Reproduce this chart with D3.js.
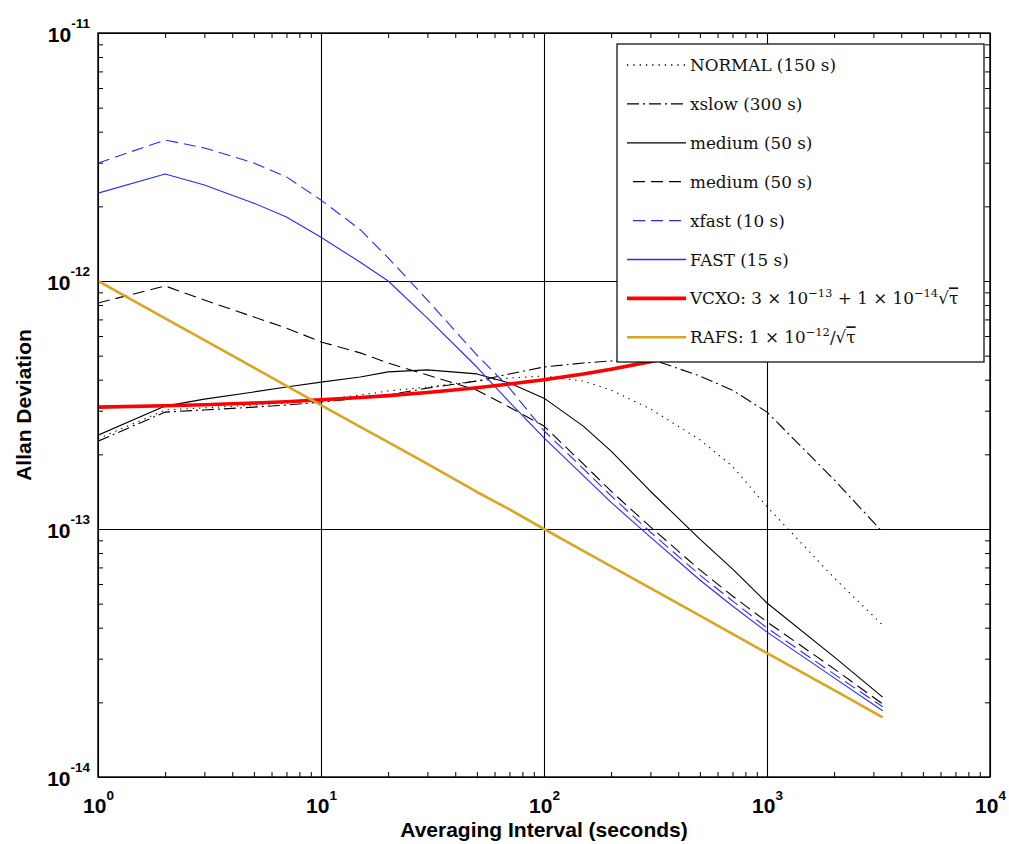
<!DOCTYPE html>
<html>
<head>
<meta charset="utf-8">
<script src="https://cdn.jsdelivr.net/npm/d3@7"></script>
<style>
  body { margin: 0; background: #fff; }
  svg { display: block; }
</style>
</head>
<body>
<svg id="chart" width="1009" height="844"></svg>
<script>
// Averaging intervals (seconds) shared by every series
const tau = [1, 2, 3, 5, 7, 10, 15, 20, 30, 50, 70, 100, 150, 200, 300, 500, 700, 1000, 2000, 3300];

// Allan deviation for each loop setting
const normal150 = [2.31e-13, 3.02e-13, 3.08e-13, 3.16e-13, 3.22e-13, 3.31e-13, 3.47e-13, 3.60e-13, 3.74e-13, 3.95e-13,
                   4.06e-13, 4.14e-13, 3.95e-13, 3.63e-13, 3.05e-13, 2.29e-13, 1.79e-13, 1.23e-13, 6.35e-14, 4.10e-14];
const xslow300 = [2.26e-13, 2.96e-13, 3.02e-13, 3.10e-13, 3.16e-13, 3.25e-13, 3.37e-13, 3.47e-13, 3.70e-13, 3.95e-13,
                  4.22e-13, 4.50e-13, 4.67e-13, 4.76e-13, 4.85e-13, 4.14e-13, 3.63e-13, 2.96e-13, 1.58e-13, 9.72e-14];
const medium50a = [2.39e-13, 3.13e-13, 3.34e-13, 3.57e-13, 3.74e-13, 3.91e-13, 4.10e-13, 4.30e-13, 4.38e-13, 4.22e-13,
                   3.88e-13, 3.37e-13, 2.60e-13, 2.06e-13, 1.42e-13, 9.10e-14, 6.90e-14, 5.03e-14, 3.05e-14, 2.10e-14];
const medium50b = [8.15e-13, 9.55e-13, 8.38e-13, 7.16e-13, 6.46e-13, 5.68e-13, 5.13e-13, 4.67e-13, 4.18e-13, 3.63e-13,
                   3.10e-13, 2.60e-13, 1.83e-13, 1.42e-13, 1.02e-13, 6.84e-14, 5.37e-14, 4.22e-14, 2.73e-14, 1.97e-14];
const xfast10 = [2.99e-12, 3.70e-12, 3.44e-12, 2.99e-12, 2.63e-12, 2.12e-12, 1.61e-12, 1.24e-12, 8.38e-13, 5.03e-13,
                 3.70e-13, 2.49e-13, 1.75e-13, 1.36e-13, 9.72e-14, 6.52e-14, 5.13e-14, 3.99e-14, 2.60e-14, 1.92e-14];
const fast15 = [2.26e-12, 2.70e-12, 2.44e-12, 2.06e-12, 1.81e-12, 1.50e-12, 1.19e-12, 1.00e-12, 7.09e-13, 4.50e-13,
                3.25e-13, 2.33e-13, 1.64e-13, 1.28e-13, 9.28e-14, 6.23e-14, 4.89e-14, 3.84e-14, 2.51e-14, 1.85e-14];
// Reference oscillator models: VCXO 3e-13 + 1e-14*sqrt(tau), RAFS 1e-12/sqrt(tau)
const vcxo = [3.10e-13, 3.14e-13, 3.17e-13, 3.22e-13, 3.26e-13, 3.32e-13, 3.39e-13, 3.45e-13, 3.55e-13, 3.71e-13,
              3.84e-13, 4.00e-13, 4.22e-13, 4.41e-13, 4.73e-13, 5.24e-13, 5.65e-13, 6.16e-13, 7.47e-13, 8.74e-13];
const rafs = [1.00e-12, 7.07e-13, 5.77e-13, 4.47e-13, 3.78e-13, 3.16e-13, 2.58e-13, 2.24e-13, 1.83e-13, 1.41e-13,
              1.20e-13, 1.00e-13, 8.16e-14, 7.07e-14, 5.77e-14, 4.47e-14, 3.78e-14, 3.16e-14, 2.24e-14, 1.74e-14];

// Axis decades
const xDecades = [1, 10, 100, 1000, 10000];
const yDecades = [1e-14, 1e-13, 1e-12, 1e-11];

const seriesList = [
  { key: "normal", values: normal150 },
  { key: "xslow",  values: xslow300 },
  { key: "medA",   values: medium50a },
  { key: "medB",   values: medium50b },
  { key: "xfast",  values: xfast10 },
  { key: "fast",   values: fast15 },
  { key: "vcxo",   values: vcxo },
  { key: "rafs",   values: rafs }
];

// Line styles per series
const styles = {
  normal: { stroke: "#000", width: 1.1, dash: "1.3,5" },
  xslow:  { stroke: "#000", width: 1.1, dash: "12,4,2,4" },
  medA:   { stroke: "#000", width: 1.1, dash: null },
  medB:   { stroke: "#000", width: 1.1, dash: "12,6" },
  xfast:  { stroke: "#2a2aff", width: 1.1, dash: "12,6" },
  fast:   { stroke: "#2a2aff", width: 1.1, dash: null },
  vcxo:   { stroke: "#ff0000", width: 3.6, dash: null },
  rafs:   { stroke: "#daa520", width: 2.6, dash: null }
};

const W = 1009, H = 844;
const m = { left: 98, top: 33, right: 19, bottom: 67 };

const svg = d3.select("#chart");

const x = d3.scaleLog().domain([1, 1e4]).range([m.left, W - m.right]);
const y = d3.scaleLog().domain([1e-14, 1e-11]).range([H - m.bottom, m.top]);
const plotW = x.range()[1] - x.range()[0];
const plotH = y.range()[0] - y.range()[1];

const minorX = d3.range(0, 4).flatMap(k => d3.range(2, 10).map(j => j * Math.pow(10, k)));
const minorY = d3.range(-14, -11).flatMap(k => d3.range(2, 10).map(j => j * Math.pow(10, k)));

svg.append("rect").attr("x", m.left).attr("y", m.top)
  .attr("width", plotW).attr("height", plotH).attr("fill", "#fff");

// Decade grid
svg.append("g").attr("class", "grid")
  .attr("transform", `translate(0,${y.range()[0]})`)
  .call(d3.axisBottom(x).tickValues(xDecades).tickSize(-plotH).tickFormat(""))
  .call(g => g.select(".domain").remove());
svg.append("g").attr("class", "grid")
  .attr("transform", `translate(${x.range()[0]},0)`)
  .call(d3.axisLeft(y).tickValues(yDecades).tickSize(-plotW).tickFormat(""))
  .call(g => g.select(".domain").remove());
svg.selectAll(".grid line").attr("stroke", "#000").attr("stroke-width", 1.1);

// Minor ticks pointing inward on all four sides
const minorAxes = [
  [d3.axisBottom(x).tickValues(minorX), `translate(0,${y.range()[0]})`],
  [d3.axisTop(x).tickValues(minorX), `translate(0,${y.range()[1]})`],
  [d3.axisLeft(y).tickValues(minorY), `translate(${x.range()[0]},0)`],
  [d3.axisRight(y).tickValues(minorY), `translate(${x.range()[1]},0)`]
];
minorAxes.forEach(([ax, tr]) => {
  svg.append("g").attr("class", "minor").attr("transform", tr)
    .call(ax.tickSize(-5).tickFormat(""))
    .call(g => g.select(".domain").remove());
});
svg.selectAll(".minor line").attr("stroke", "#000").attr("stroke-width", 1);

// Curves
svg.append("clipPath").attr("id", "plotClip")
  .append("rect").attr("x", m.left).attr("y", m.top).attr("width", plotW).attr("height", plotH);

const line = d3.line().x(d => x(d[0])).y(d => y(d[1]));
const curves = svg.append("g").attr("clip-path", "url(#plotClip)");
seriesList.forEach(s => {
  const st = styles[s.key];
  curves.append("path")
    .datum(tau.map((t, i) => [t, s.values[i]]))
    .attr("d", line)
    .attr("fill", "none")
    .attr("stroke", st.stroke)
    .attr("stroke-width", st.width)
    .attr("stroke-dasharray", st.dash)
    .attr("stroke-linejoin", "round");
});

// Plot frame
svg.append("rect").attr("x", m.left).attr("y", m.top)
  .attr("width", plotW).attr("height", plotH)
  .attr("fill", "none").attr("stroke", "#000").attr("stroke-width", 1.4);

// Tick labels: 10 with superscript exponent
const tickFont = "Liberation Sans, Arial, sans-serif";
svg.append("g")
  .attr("transform", `translate(0,${y.range()[0]})`)
  .call(d3.axisBottom(x).tickValues(xDecades).tickSize(0).tickFormat(() => "10"))
  .call(g => g.select(".domain").remove())
  .call(g => g.selectAll("text")
    .attr("font-family", tickFont).attr("font-size", 21).attr("font-weight", "bold").attr("fill", "#000")
    .attr("y", 36).attr("dy", null)
    .each(function (d) {
      d3.select(this).append("tspan")
        .attr("font-size", 13.5).attr("dy", -13)
        .text(Math.round(Math.log10(d)));
    }));

svg.append("g")
  .attr("transform", `translate(${x.range()[0]},0)`)
  .call(d3.axisLeft(y).tickValues(yDecades).tickSize(0).tickFormat(() => "10"))
  .call(g => g.select(".domain").remove())
  .call(g => g.selectAll("text")
    .attr("font-family", tickFont).attr("font-size", 21).attr("font-weight", "bold").attr("fill", "#000")
    .attr("x", -8).attr("dy", 8)
    .each(function (d) {
      d3.select(this).append("tspan")
        .attr("font-size", 13.5).attr("dy", -14)
        .text(Math.round(Math.log10(d)));
    }));

// Axis titles
svg.append("text")
  .attr("x", (x.range()[0] + x.range()[1]) / 2).attr("y", 837)
  .attr("text-anchor", "middle")
  .attr("font-family", tickFont).attr("font-size", 21).attr("font-weight", "bold").attr("fill", "#000")
  .text("Averaging Interval (seconds)");
svg.append("text")
  .attr("transform", `translate(31,${(y.range()[0] + y.range()[1]) / 2}) rotate(-90)`)
  .attr("text-anchor", "middle")
  .attr("font-family", tickFont).attr("font-size", 21).attr("font-weight", "bold").attr("fill", "#000")
  .text("Allan Deviation");

// Legend
const legendEntries = [
  { key: "normal", parts: [["NORMAL (150 s)"]] },
  { key: "xslow",  parts: [["xslow (300 s)"]] },
  { key: "medA",   parts: [["medium (50 s)"]] },
  { key: "medB",   parts: [["medium (50 s)"]] },
  { key: "xfast",  parts: [["xfast (10 s)"]] },
  { key: "fast",   parts: [["FAST (15 s)"]] },
  { key: "vcxo",   parts: [["VCXO: 3 × 10"], ["−13", "sup"], [" + 1 × 10"], ["−14", "sup"], ["√"], ["τ", "bar"]] },
  { key: "rafs",   parts: [["RAFS: 1 × 10"], ["−12", "sup"], ["/√"], ["τ", "bar"]] }
];

const lg = svg.append("g");
lg.append("rect").attr("x", 617).attr("y", 44).attr("width", 367).attr("height", 318)
  .attr("fill", "#fff").attr("stroke", "#000").attr("stroke-width", 1.2);

legendEntries.forEach((e, i) => {
  const cy = 65 + i * 38.9;
  const st = styles[e.key];
  lg.append("line")
    .attr("x1", 627).attr("x2", 686).attr("y1", cy).attr("y2", cy)
    .attr("stroke", st.stroke).attr("stroke-width", Math.max(st.width, 1.3))
    .attr("stroke-dasharray", st.dash)
    .attr("stroke-dashoffset", st.dash === "12,6" ? 12 : 0);
  const t = lg.append("text").attr("x", 690).attr("y", cy + 6)
    .attr("font-family", "DejaVu Serif, serif").attr("font-size", 16.8).attr("fill", "#111");
  let raised = false;
  e.parts.forEach(([txt, kind]) => {
    const ts = t.append("tspan").text(txt);
    if (kind === "sup") {
      ts.attr("font-size", 11.5).attr("dy", -7);
      raised = true;
    } else if (raised) {
      ts.attr("dy", 7);
      raised = false;
    }
    if (kind === "bar") ts.style("text-decoration", "overline");
  });
});
</script>
</body>
</html>
